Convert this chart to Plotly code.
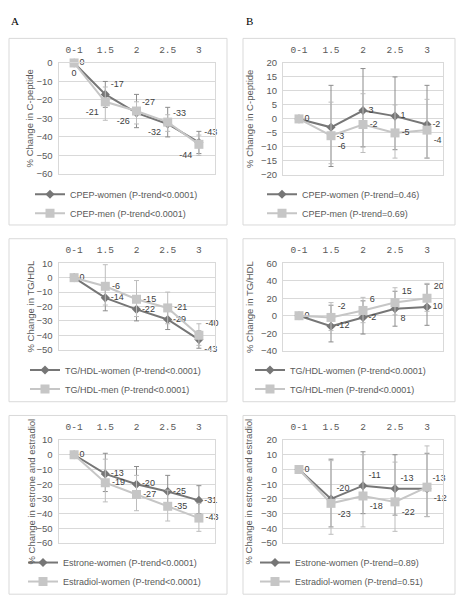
import plotly.graph_objects as go

W, H = 468, 609

categories = ["0-1", "1.5", "2", "2.5", "3"]

# Panel A1: C-peptide (lifestyle A)
a1_women = [0, -17, -27, -33, -43]
a1_women_hi = [0, -10, -17, -24, -37]
a1_women_lo = [0, -24, -35, -40, -49]
a1_men = [0, -21, -26, -32, -44]
a1_men_hi = [0, -13, -21, -28, -39]
a1_men_lo = [0, -31, -33, -37, -50]

# Panel B1
b1_women = [0, -3, 3, 1, -2]
b1_women_hi = [0, 12, 18, 15, 12]
b1_women_lo = [0, -17, -10, -11, -14]
b1_men = [0, -6, -2, -5, -4]
b1_men_hi = [0, 6, 9, 5, 7]
b1_men_lo = [0, -16, -12, -14, -14]

# Panel A2: TG/HDL
a2_women = [0, -14, -22, -29, -43]
a2_women_hi = [0, -5, -14, -22, -37]
a2_women_lo = [0, -23, -30, -36, -49]
a2_men = [0, -6, -15, -21, -40]
a2_men_hi = [0, 9, -2, -10, -32]
a2_men_lo = [0, -19, -27, -32, -47]

# Panel B2
b2_women = [0, -12, -2, 8, 10]
b2_women_hi = [0, 12, 17, 28, 36]
b2_women_lo = [0, -30, -21, -12, -11]
b2_men = [0, -2, 6, 15, 20]
b2_men_hi = [0, 15, 21, 32, 37]
b2_men_lo = [0, -17, -8, 1, 5]

# Panel A3: estrone / estradiol
a3_estrone = [0, -13, -20, -25, -31]
a3_estrone_hi = [0, 1, -8, -14, -21]
a3_estrone_lo = [0, -25, -26, -35, -40]
a3_estradiol = [0, -19, -27, -35, -43]
a3_estradiol_hi = [0, -3, -14, -24, -33]
a3_estradiol_lo = [0, -32, -38, -45, -52]

# Panel B3
b3_estrone = [0, -20, -11, -13, -13]
b3_estrone_hi = [0, 7, 12, 10, 11]
b3_estrone_lo = [0, -39, -30, -31, -32]
b3_estradiol = [0, -23, -18, -22, -12]
b3_estradiol_hi = [0, 6, 10, 5, 16]
b3_estradiol_lo = [0, -44, -39, -42, -32]

legend_names = [
    ("CPEP-women (P-trend<0.0001)", "CPEP-men (P-trend<0.0001)"),
    ("CPEP-women (P-trend=0.46)", "CPEP-men (P-trend=0.69)"),
    ("TG/HDL-women (P-trend<0.0001)", "TG/HDL-men (P-trend<0.0001)"),
    ("TG/HDL-women (P-trend<0.0001)", "TG/HDL-men (P-trend<0.0001)"),
    ("Estrone-women (P-trend<0.0001)", "Estradiol-women (P-trend<0.0001)"),
    ("Estrone-women (P-trend=0.89)", "Estradiol-women (P-trend=0.51)"),
]
y_titles = ["% Change in C-peptide", "% Change in C-peptide",
            "% Change in TG/HDL", "% Change in TG/HDL",
            "% Change in estrone and estradiol", "% Change in estrone and estradiol"]

FONT = "Liberation Sans, Arial, sans-serif"
DARK = "#767676"
LIGHT = "#c6c6c6"
DARK_ERR = "#8c8c8c"
LIGHT_ERR = "#bdbdbd"
GRID = "#d9d9d9"
TICK = "#595959"


def px_x(p):
    return p / W


def px_y(p):
    return 1 - p / H


panels = [
    dict(s1=(a1_women, a1_women_hi, a1_women_lo), s2=(a1_men, a1_men_hi, a1_men_lo),
         xd=(58.5, 214.5), yd=(58, 171), yr=(-60, 0), dt=10,
         tp1=["middle right", "top right", "top right", "top right", "top right"],
         tp2=["bottom center", "bottom left", "bottom left", "bottom left", "bottom left"],
         show0=(True, True), leg=(30, 177), ytx=29, box=(9, 33, 227, 223)),
    dict(s1=(b1_women, b1_women_hi, b1_women_lo), s2=(b1_men, b1_men_hi, b1_men_lo),
         xd=(283, 443), yd=(58, 172), yr=(-20, 20), dt=5,
         tp1=["middle right", "bottom right", "middle right", "middle right", "middle right"],
         tp2=["middle right", "bottom right", "middle right", "middle right", "bottom right"],
         show0=(True, False), leg=(262, 177), ytx=250, box=(243, 33, 455, 223)),
    dict(s1=(a2_women, a2_women_hi, a2_women_lo), s2=(a2_men, a2_men_hi, a2_men_lo),
         xd=(58.5, 214.5), yd=(262, 350), yr=(-50, 10), dt=10,
         tp1=["middle right", "middle right", "middle right", "middle right", "bottom right"],
         tp2=["middle right", "middle right", "middle right", "middle right", "top right"],
         show0=(True, False), leg=(25, 356), ytx=30, box=(9, 237, 227, 403)),
    dict(s1=(b2_women, b2_women_hi, b2_women_lo), s2=(b2_men, b2_men_hi, b2_men_lo),
         xd=(283, 443), yd=(262, 351), yr=(-40, 60), dt=20,
         tp1=["middle right", "middle right", "middle right", "bottom right", "middle right"],
         tp2=["middle right", "top right", "top right", "top right", "top right"],
         show0=(True, False), leg=(250, 356), ytx=250, box=(243, 237, 455, 403)),
    dict(s1=(a3_estrone, a3_estrone_hi, a3_estrone_lo), s2=(a3_estradiol, a3_estradiol_hi, a3_estradiol_lo),
         xd=(58.5, 214.5), yd=(442, 547), yr=(-60, 10), dt=10,
         tp1=["middle right", "middle right", "middle right", "middle right", "middle right"],
         tp2=["middle right", "middle right", "middle right", "middle right", "middle right"],
         show0=(True, False), leg=(23, 552), ytx=32, box=(9, 417, 227, 599)),
    dict(s1=(b3_estrone, b3_estrone_hi, b3_estrone_lo), s2=(b3_estradiol, b3_estradiol_hi, b3_estradiol_lo),
         xd=(283, 443), yd=(442, 547), yr=(-50, 20), dt=10,
         tp1=["middle right", "top right", "top right", "top right", "top right"],
         tp2=["middle right", "bottom right", "bottom right", "bottom right", "bottom right"],
         show0=(True, False), leg=(255, 552), ytx=249, box=(243, 417, 455, 599)),
]

fig = go.Figure()
xs = list(range(len(categories)))
layout = {}
shapes = []
annotations = []

for i, p in enumerate(panels, start=1):
    xa = "x" if i == 1 else f"x{i}"
    ya = "y" if i == 1 else f"y{i}"
    lg = "legend" if i == 1 else f"legend{i}"
    for k, (ser, color, ecolor, sym, msize, tp, nm) in enumerate([
        (p["s1"], DARK, DARK_ERR, "diamond", 7, p["tp1"], legend_names[i - 1][0]),
        (p["s2"], LIGHT, LIGHT_ERR, "square", 9, p["tp2"], legend_names[i - 1][1]),
    ]):
        vals, hi, lo = ser
        texts = [str(v) for v in vals]
        if not p["show0"][k]:
            texts[0] = ""
        fig.add_trace(go.Scatter(
            x=xs, y=vals, mode="lines+markers+text", name=nm,
            text=texts, textposition=tp,
            textfont=dict(family=FONT, size=9, color="#404040"),
            line=dict(color=color, width=2),
            marker=dict(symbol=sym, size=msize, color=color),
            error_y=dict(type="data", symmetric=False,
                         array=[h - v for h, v in zip(hi, vals)],
                         arrayminus=[v - l for l, v in zip(lo, vals)],
                         color=ecolor, thickness=1, width=2.5),
            cliponaxis=False, xaxis=xa, yaxis=ya, legend=lg,
        ))
    xkey = "xaxis" if i == 1 else f"xaxis{i}"
    ykey = "yaxis" if i == 1 else f"yaxis{i}"
    layout[xkey] = dict(
        domain=[px_x(p["xd"][0]), px_x(p["xd"][1])], anchor=ya,
        range=[-0.5, len(categories) - 0.5], tickvals=xs, ticktext=categories,
        side="top", showgrid=False, zeroline=False, showline=True, mirror=True,
        linecolor=GRID, linewidth=1, ticks="", ticklabelstandoff=5,
        tickfont=dict(family="Liberation Mono, monospace", size=9.5, color=TICK),
        fixedrange=True,
    )
    layout[ykey] = dict(
        domain=[px_y(p["yd"][1]), px_y(p["yd"][0])], anchor=xa,
        range=list(p["yr"]), dtick=p["dt"], showgrid=True, gridcolor=GRID, gridwidth=1,
        zeroline=False, showline=True, mirror=True, linecolor=GRID, linewidth=1,
        ticks="", ticklabelstandoff=3,
        tickfont=dict(family=FONT, size=9.5, color=TICK), fixedrange=True,
    )
    layout[lg] = dict(
        x=px_x(p["leg"][0]), y=px_y(p["leg"][1]), xanchor="left", yanchor="top",
        font=dict(family=FONT, size=9, color=TICK), bgcolor="rgba(0,0,0,0)",
        itemwidth=30, tracegroupgap=0,
    )
    bx = p["box"]
    shapes.append(dict(type="rect", xref="paper", yref="paper",
                       x0=px_x(bx[0]), x1=px_x(bx[2]), y0=px_y(bx[3]), y1=px_y(bx[1]),
                       line=dict(color=GRID, width=1), fillcolor="rgba(0,0,0,0)"))
    annotations.append(dict(
        text=y_titles[i - 1], xref="paper", yref="paper",
        x=px_x(p["ytx"]), y=px_y((p["yd"][0] + p["yd"][1]) / 2),
        textangle=-90, showarrow=False, xanchor="center", yanchor="middle",
        font=dict(family=FONT, size=9.5, color=TICK),
    ))

annotations.append(dict(text="A", xref="paper", yref="paper", x=px_x(15), y=px_y(15),
                        showarrow=False, font=dict(family="Liberation Serif, serif", size=11, color="#000"),
                        xanchor="center", yanchor="middle"))
annotations.append(dict(text="B", xref="paper", yref="paper", x=px_x(249), y=px_y(15),
                        showarrow=False, font=dict(family="Liberation Serif, serif", size=11, color="#000"),
                        xanchor="center", yanchor="middle"))

fig.update_layout(
    width=W, height=H, margin=dict(l=0, r=0, t=0, b=0),
    paper_bgcolor="white", plot_bgcolor="white",
    shapes=shapes, annotations=annotations, **layout,
)

fig.write_html("out.html", config={"displayModeBar": False},
               post_script="document.body.style.margin='0px';")
